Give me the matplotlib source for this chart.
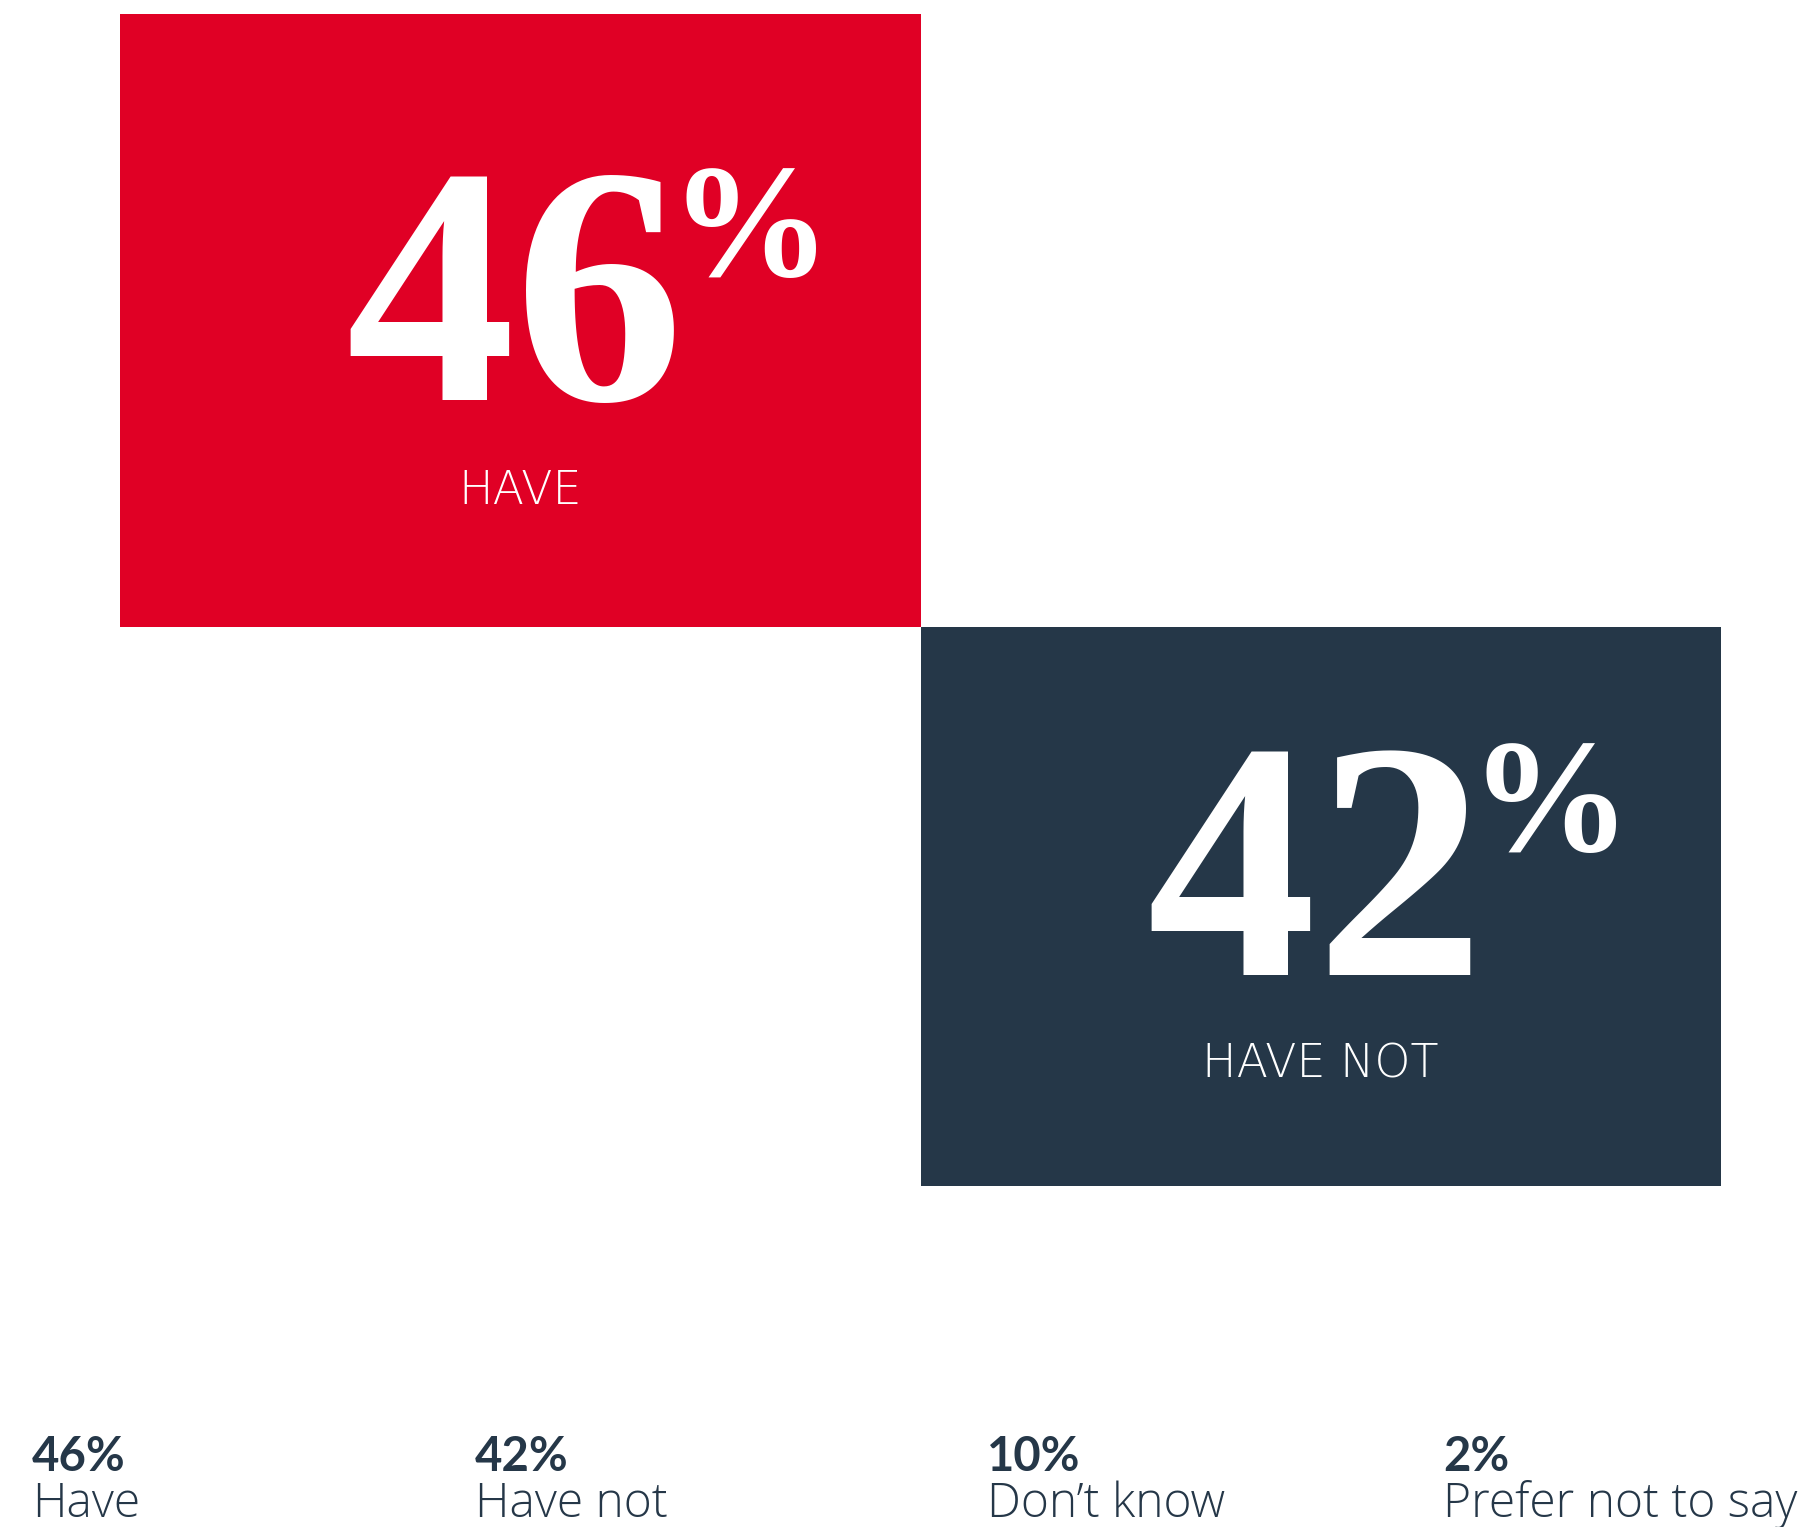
import matplotlib
matplotlib.use("Agg")
import matplotlib.pyplot as plt

# Survey results
categories = ["Have", "Have not", "Don\u2019t know", "Prefer not to say"]
values = [46, 42, 10, 2]
box_labels = ["HAVE", "HAVE NOT"]
box_colors = ["#E00025", "#253748"]
text_navy = "#253748"

W, H = 1813, 1527
DPI = 100
fig = plt.figure(figsize=(W / DPI, H / DPI), dpi=DPI, facecolor="white")

# Axes holding the two stacked blocks (pixel extents of the block area)
x0, x1, y0, y1 = 120, 1721, 14, 1186
ax = fig.add_axes([x0 / W, 1 - y1 / H, (x1 - x0) / W, (y1 - y0) / H])
total = values[0] + values[1]
ax.set_xlim(0, 2)
ax.set_ylim(total, 0)
ax.axis("off")

bottoms = [0, values[0]]
ax.bar([0, 1], values[:2], bottom=bottoms, width=1, align="edge",
       color=box_colors, linewidth=0)

px_per_unit = (y1 - y0) / total


def ydata(py):
    return (py - y0) / px_per_unit


serif = "Liberation Serif"
light = ["Open Sans", "DejaVu Sans"]
caps = ["DejaVu Sans"]
bold = ["Lato", "DejaVu Sans"]

num_baselines = [400, 975]
lab_baselines = [504, 1078]
for i in range(2):
    cx = i + 0.5 - 5 / (x1 - x0) * 2
    t = ax.text(cx, ydata(num_baselines[i]), f"{values[i]}",
                color="white", fontfamily=serif, fontweight="bold",
                fontsize=244, ha="center", va="baseline")
    ax.annotate("%", xy=(1, 1), xycoords=t, xytext=(-11, 0),
                textcoords="offset points", color="white",
                fontfamily=serif, fontweight="bold", fontsize=116,
                ha="left", va="top")
    ax.text(i + 0.5, ydata(lab_baselines[i]), box_labels[i], color="white",
            fontfamily=caps, fontweight=200, fontsize=33,
            ha="center", va="baseline")

# Summary row along the bottom
col_x = [32, 475, 987, 1443]
for cx, v, cat in zip(col_x, values, categories):
    fig.text(cx / W, 1 - 1471 / H, f"{v}%", color=text_navy,
             fontfamily=bold, fontweight="bold", fontsize=34,
             ha="left", va="baseline")
    fig.text(cx / W, 1 - 1517 / H, cat, color=text_navy,
             fontfamily=light, fontweight=300, fontsize=34.5,
             ha="left", va="baseline")

fig.savefig("out.png", dpi=DPI, facecolor="white")
